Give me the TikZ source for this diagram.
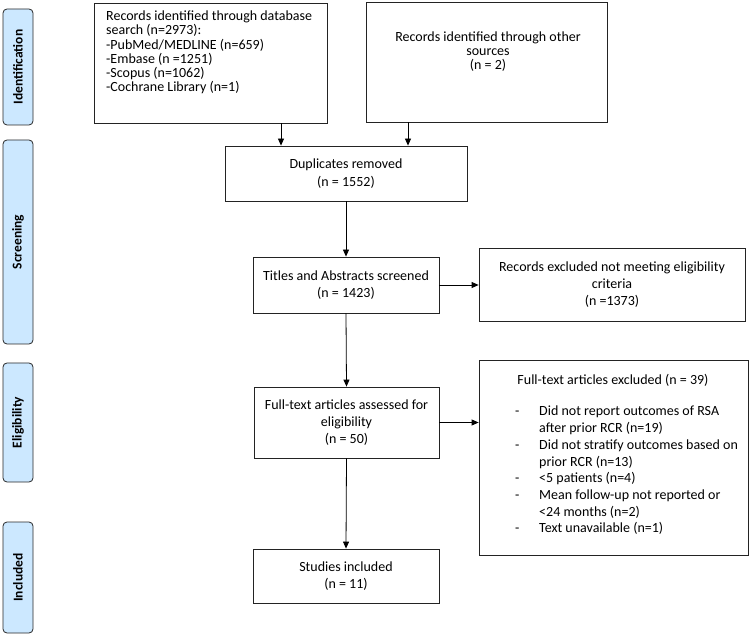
\documentclass[tikz,border=0pt]{standalone}
\usepackage{fontspec}
\setmainfont{Carlito}
\usetikzlibrary{arrows.meta}
\definecolor{stagefill}{RGB}{204,232,255}
\definecolor{stageline}{RGB}{40,40,40}
\definecolor{boxline}{RGB}{35,35,35}
\begin{document}
\begin{tikzpicture}[x=1pt,y=-1pt,
  stagebox/.style={draw=stageline,fill=stagefill,rounded corners=4pt,line width=0.8pt,
    minimum height=30pt,inner sep=0pt,rotate=90,font=\fontsize{13.5}{15}\selectfont\bfseries},
  flowbox/.style={draw=boxline,line width=0.8pt,inner sep=0pt,align=center,
    font=\fontsize{14}{17}\selectfont},
  plain/.style={inner sep=0pt,font=\fontsize{14}{14.3}\selectfont},
  arr/.style={-{Triangle[length=7pt,width=6pt]},line width=0.8pt,draw=black}]
\useasboundingbox (0,0) rectangle (750,636);
% stage labels
\node[stagebox,minimum width=116pt] (sId) at (18,67) {Identification};
\node[stagebox,minimum width=204pt] (sSc) at (18,242) {Screening};
\node[stagebox,minimum width=119pt] (sEl) at (18,422.5) {Eligibility};
\node[stagebox,minimum width=111pt] (sIn) at (18,577.5) {Included};
% boxes
\node[flowbox,minimum width=233pt,minimum height=120pt] (idA) at (210.5,63) {};
\node[plain,anchor=north west,align=left] (idAt) at (106,10.5)
  {Records identified through database\\search (n=2973):\\-PubMed/MEDLINE (n=659)\\-Embase (n =1251)\\-Scopus (n=1062)\\-Cochrane Library (n=1)};
\node[flowbox,minimum width=241pt,minimum height=120pt] (idB) at (486.5,62) {};
\node[plain,align=center] (idBt) at (488,51.5) {Records identified through other\\sources\\(n = 2)};
\node[flowbox,minimum width=242pt,minimum height=55pt,font=\fontsize{14}{18}\selectfont] (dup) at (346,173.5) {Duplicates removed\\(n = 1552)};
\node[flowbox,minimum width=186pt,minimum height=56pt] (tit) at (346,285) {Titles and Abstracts screened\\(n = 1423)};
\node[flowbox,minimum width=266pt,minimum height=73pt] (ex1) at (612,284.5) {Records excluded not meeting eligibility\\criteria\\(n =1373)};
\node[flowbox,minimum width=185pt,minimum height=71pt] (ful) at (346.5,422.5) {Full-text articles assessed for\\eligibility\\(n = 50)};
\node[flowbox,minimum width=269pt,minimum height=195pt] (ex2) at (613.5,457.5) {};
\node[plain,anchor=center] (ex2h) at (613,380) {Full-text articles excluded (n = 39)};
\node[plain,anchor=north west,font=\fontsize{14}{16.7}\selectfont,align=left] (ex2l) at (515,406)
  {\makebox[24pt][l]{-}Did not report outcomes of RSA\\\hspace*{24pt}after prior RCR (n=19)\\
   \makebox[24pt][l]{-}Did not stratify outcomes based on\\\hspace*{24pt}prior RCR (n=13)\\
   \makebox[24pt][l]{-}<5 patients (n=4)\\
   \makebox[24pt][l]{-}Mean follow-up not reported or\\\hspace*{24pt}<24 months (n=2)\\
   \makebox[24pt][l]{-}Text unavailable (n=1)};
\node[flowbox,minimum width=186pt,minimum height=54pt] (inc) at (346,576) {Studies included\\(n = 11)};
% connectors
\coordinate (c1) at (281,0);
\coordinate (c2) at (408,0);
\draw[arr] (idA.south -| c1) -- (dup.north -| c1);
\draw[arr] (idB.south -| c2) -- (dup.north -| c2);
\draw[arr] (dup.south) -- (tit.north);
\draw[arr] (tit.east) -- (ex1.west |- tit.east);
\draw[arr] (tit.south) -- (ful.north);
\draw[arr] (ful.east) -- (ex2.west |- ful.east);
\draw[arr] (ful.south) -- (inc.north);
\end{tikzpicture}
\end{document}
